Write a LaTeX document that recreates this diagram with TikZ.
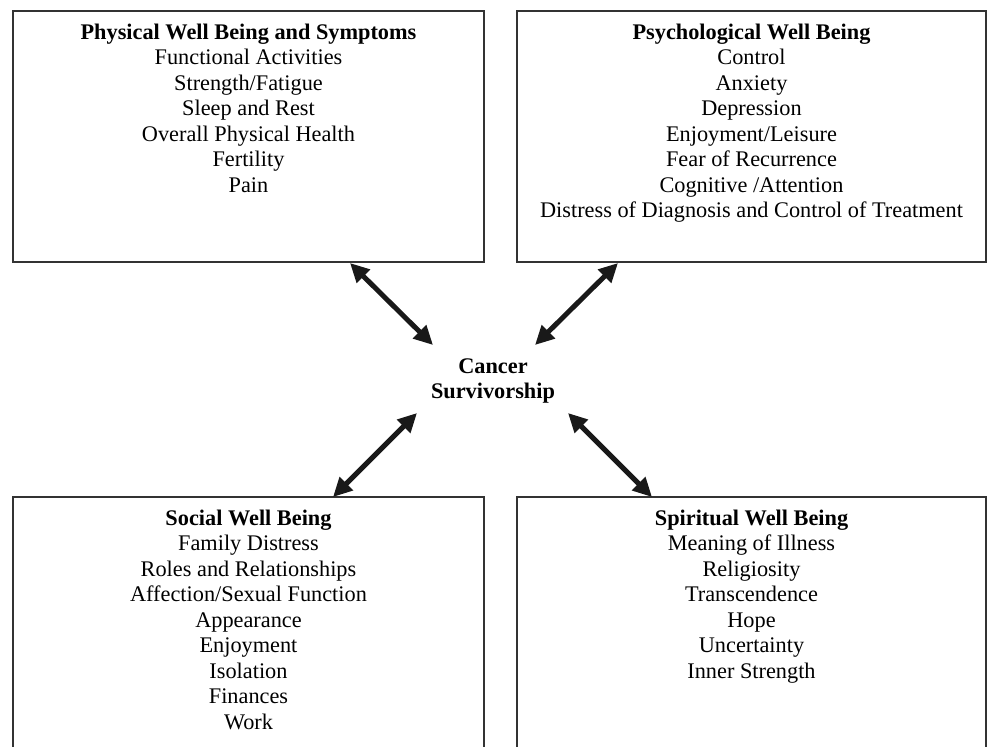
\documentclass[tikz,border=0pt]{standalone}
\usepackage{fontspec}
\setmainfont{Liberation Serif}
\usetikzlibrary{arrows.meta}
\begin{document}
\begin{tikzpicture}[x=1pt,y=-1pt,
  box/.style={draw=black!80, line width=1.3pt, inner sep=0pt, outer sep=0pt},
  boxtext/.style={anchor=north, align=center, inner sep=0pt, font=\fontsize{22.3}{25.5}\selectfont},
  link/.style={line width=5pt, draw=black!90, {Triangle[length=19pt,width=18pt]}-{Triangle[length=19pt,width=18pt]}}]
\path[use as bounding box] (0,0) rectangle (988,747);
\clip (0,0) rectangle (988,747);
\fill[white] (0,0) rectangle (988,747);

\node[box, minimum width=471pt, minimum height=251pt, anchor=north west] (phys) at (13,11) {};
\node[box, minimum width=469pt, minimum height=251pt, anchor=north west] (psych) at (517,11) {};
\node[box, minimum width=471pt, minimum height=300pt, anchor=north west] (soc) at (13,497) {};
\node[box, minimum width=469pt, minimum height=300pt, anchor=north west] (spir) at (517,497) {};

\node[boxtext] (physt) at (248.5,23.5) {\textbf{Physical Well Being and Symptoms}\\Functional Activities\\Strength/Fatigue\\Sleep and Rest\\Overall Physical Health\\Fertility\\Pain};
\node[boxtext] (psycht) at (751.5,23.5) {\textbf{Psychological Well Being}\\Control\\Anxiety\\Depression\\Enjoyment/Leisure\\Fear of Recurrence\\Cognitive /Attention\\Distress of Diagnosis and Control of Treatment};
\node[boxtext] (soct) at (248.5,509.5) {\textbf{Social Well Being}\\Family Distress\\Roles and Relationships\\Affection/Sexual Function\\Appearance\\Enjoyment\\Isolation\\Finances\\Work};
\node[boxtext] (spirt) at (751.5,509.5) {\textbf{Spiritual Well Being}\\Meaning of Illness\\Religiosity\\Transcendence\\Hope\\Uncertainty\\Inner Strength};

\node[align=center, inner sep=0pt, font=\bfseries\fontsize{22.3}{25}\selectfont] (cs) at (493,381) {Cancer\\Survivorship};

\coordinate (a1) at (350,263);
\coordinate (b1) at (433,345);
\coordinate (a2) at (618,263);
\coordinate (b2) at (535,345);
\coordinate (a3) at (333,497);
\coordinate (b3) at (417,413);
\coordinate (a4) at (652,497);
\coordinate (b4) at (568,413);
\draw[link] (a1) -- (b1);
\draw[link] (a2) -- (b2);
\draw[link] (a3) -- (b3);
\draw[link] (a4) -- (b4);
\end{tikzpicture}
\end{document}
